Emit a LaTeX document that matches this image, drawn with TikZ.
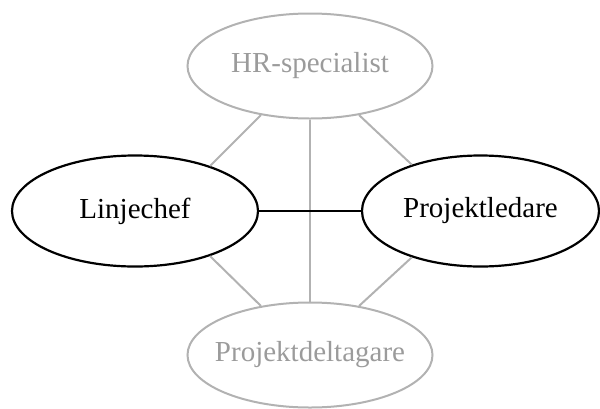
\documentclass[tikz,border=0pt]{standalone}
\usepackage{fontspec}
\setmainfont{Liberation Serif}
\usepackage{tikz}
\usetikzlibrary{shapes}

\definecolor{palegray}{RGB}{178,178,178}
\definecolor{palegraytext}{RGB}{155,155,155}

\begin{document}
\begin{tikzpicture}[x=1pt,y=-1pt,
	main/.style={ellipse,draw,line width=2.2pt,minimum width=246pt,minimum height=111pt,inner xsep=-12pt,inner ysep=0pt,font=\fontsize{29}{34}\selectfont},
	side/.style={ellipse,draw=palegray,text=palegraytext,line width=2pt,minimum width=245pt,minimum height=105pt,inner xsep=-12pt,inner ysep=0pt,font=\fontsize{29}{34}\selectfont},
	link/.style={palegray,line width=2pt}]
			\useasboundingbox (0,0) rectangle (600,408);

			\node[side] (hr) at (310,66) {HR-specialist};
			\node[main] (linje) at (135,211) {Linjechef};
			\node[main,minimum width=237pt] (ledare) at (480.5,211) {Projektledare};
			\node[side] (deltagare) at (310,355) {Projektdeltagare};

			\path[draw,link] (hr.south) -- (deltagare.north);
			\path[draw,link] (hr.225) -- (linje.31.6);
			\path[draw,link] (hr.-45) -- (ledare.146.9);
			\path[draw,link] (deltagare.135) -- (linje.-31.6);
			\path[draw,link] (deltagare.45) -- (ledare.-146.9);
			\path[draw,line width=2.2pt] (linje) -- (ledare);
		\end{tikzpicture}
\end{document}
